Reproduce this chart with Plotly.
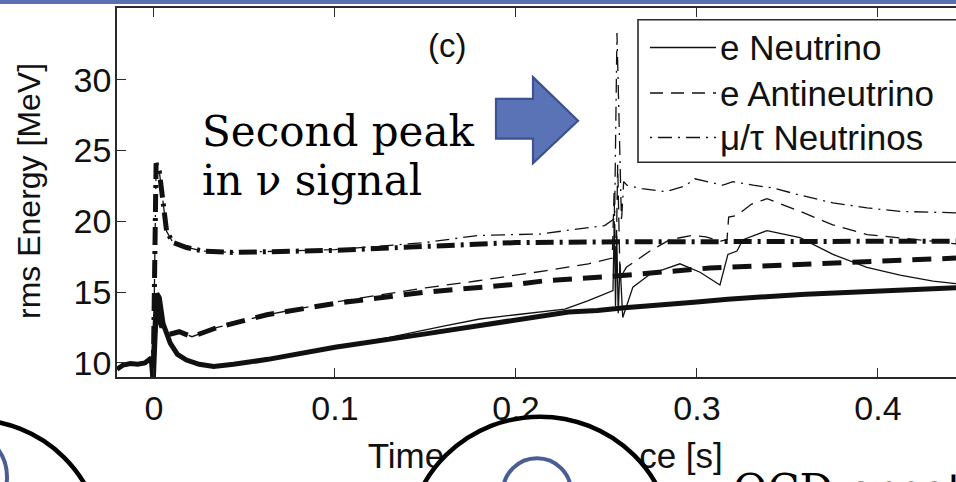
import plotly.graph_objects as go

# ---------------- data ----------------
# thick solid: e neutrino, reference model
t_nu_thick = [-0.0204, -0.017, -0.013, -0.009, -0.005, -0.0015, -0.0004, 0.0006, 0.0016, 0.003,
              0.005, 0.009, 0.013, 0.018, 0.025, 0.033, 0.044, 0.063, 0.1, 0.15,
              0.2, 0.229, 0.245, 0.26, 0.3, 0.317, 0.36, 0.4, 0.4431]
E_nu_thick = [9.55, 9.85, 9.95, 9.9, 10.0, 10.35, 8.6, 12.5, 14.9, 14.6,
              12.8, 11.4, 10.6, 10.2, 9.9, 9.75, 9.9, 10.25, 11.1, 12.05,
              13.0, 13.6, 13.7, 13.9, 14.3, 14.5, 14.85, 15.1, 15.3]

# thin solid: e neutrino, with second peak
t_nu_thin = [-0.0204, -0.017, -0.013, -0.009, -0.005, -0.0015, -0.0004, 0.0006, 0.0016, 0.003,
             0.005, 0.009, 0.013, 0.018, 0.025, 0.033, 0.044, 0.063, 0.1, 0.13,
             0.16, 0.18, 0.2, 0.227, 0.24, 0.2536, 0.2543, 0.255, 0.2557, 0.2565,
             0.2575, 0.259, 0.2646, 0.274, 0.2906, 0.3017, 0.3127, 0.3171, 0.3221, 0.3254,
             0.3387, 0.3569, 0.3751, 0.3939, 0.4122, 0.4304, 0.4431]
E_nu_thin = [9.55, 9.85, 9.95, 9.9, 10.0, 10.35, 9.6, 12.5, 14.9, 14.6,
             12.8, 11.4, 10.6, 10.2, 9.9, 9.75, 9.9, 10.25, 11.1, 11.8,
             12.6, 13.1, 13.4, 13.8, 14.4, 15.1, 20.0, 14.0, 19.0, 13.5,
             17.0, 13.2, 15.35, 16.26, 17.0, 16.4, 15.5, 17.66, 17.9, 18.7,
             19.34, 18.85, 17.66, 16.75, 16.2, 15.77, 15.6]

# thick dashed: e antineutrino, reference model
t_anu_thick = [-0.0004, 0.0012, 0.003, 0.005, 0.008, 0.014, 0.021, 0.035, 0.0624, 0.1,
               0.15, 0.179, 0.2, 0.216, 0.252, 0.307, 0.363, 0.4431]
E_anu_thick = [10.0, 14.0, 13.0, 12.3, 12.0, 12.2, 11.85, 12.5, 13.4, 14.2,
               15.0, 15.3, 15.55, 15.8, 16.1, 16.7, 17.0, 17.4]

# thin dashed: e antineutrino, with second peak
t_anu_thin = [-0.0004, 0.0012, 0.003, 0.005, 0.008, 0.014, 0.021, 0.035, 0.0624, 0.1,
              0.15, 0.179, 0.216, 0.24, 0.2532, 0.2542, 0.2552, 0.2562, 0.2575, 0.261,
              0.274, 0.285, 0.297, 0.305, 0.313, 0.3166, 0.3175, 0.322, 0.33, 0.3387,
              0.357, 0.375, 0.394, 0.412, 0.43, 0.4431]
E_anu_thin = [10.0, 14.0, 13.0, 12.3, 12.0, 12.2, 11.85, 12.5, 13.4, 14.3,
              15.3, 15.8, 16.5, 17.0, 17.4, 22.0, 16.0, 24.0, 16.0, 16.75,
              17.9, 18.7, 19.0, 18.9, 18.6, 18.7, 20.3, 20.4, 21.2, 21.6,
              20.7, 19.75, 19.06, 18.85, 18.6, 18.4]

# thick dash-dot: mu/tau neutrinos, reference model
t_mt_thick = [-0.0004, 0.0012, 0.003, 0.007, 0.0105, 0.018, 0.027, 0.044, 0.1, 0.15,
              0.2, 0.26, 0.35, 0.4431]
E_mt_thick = [9.0, 24.1, 23.5, 19.3, 18.5, 18.15, 17.9, 17.8, 17.95, 18.25,
              18.5, 18.55, 18.6, 18.6]

# thin dash-dot: mu/tau neutrinos, with second peak
t_mt_thin = [-0.0004, 0.0012, 0.003, 0.007, 0.0105, 0.018, 0.027, 0.044, 0.1, 0.15,
             0.179, 0.213, 0.249, 0.2545, 0.2558, 0.2583, 0.2595, 0.2613, 0.2696, 0.2829,
             0.2934, 0.2989, 0.3144, 0.3199, 0.331, 0.342, 0.3569, 0.3751, 0.3939, 0.4122,
             0.4431]
E_mt_thin = [9.0, 24.1, 23.5, 19.3, 18.5, 18.15, 17.9, 17.8, 18.0, 18.5,
             19.0, 19.1, 19.7, 20.2, 33.3, 20.0, 22.8, 22.55, 22.3, 22.1,
             22.5, 23.0, 22.55, 22.8, 22.55, 22.35, 21.85, 21.3, 20.95, 20.7,
             20.6]

legend_names = ["e Neutrino", "e Antineutrino", "\u03bc/\u03c4 Neutrinos"]
x_tickvals = [0, 0.1, 0.2, 0.3, 0.4]
x_ticktext = ["0", "0.1", "0.2", "0.3", "0.4"]
y_tickvals = [10, 15, 20, 25, 30, 35]
y_ticktext = ["10", "15", "20", "25", "30", ""]

# ---------------- layout helpers ----------------
W, H = 956, 482
L, R, T, B = 117, 956, 8, 381
X_RANGE = [-0.0204, 0.4431]
Y_RANGE = [9.0, 35.07]


def px(x):  # figure pixel -> paper (margins are zero, paper = whole figure)
    return x / W


def py(y):
    return 1 - y / H


INK = "#111111"
AXC = "#2a2a2a"
SANS = "Liberation Sans, Arial, Helvetica, sans-serif"
SERIF = "DejaVu Serif, serif"

THIN = 1.3
THICK = 5
DASH_THICK = "19px,11px"
DASHDOT_THICK = "18px,6px,3px,6px"
DASH_THIN = "14px,8px"
DASHDOT_THIN = "14px,6px,2px,6px"

fig = go.Figure()


def add_line(t, e, width, dash, name):
    fig.add_trace(go.Scatter(x=t, y=e, mode="lines", name=name,
                             line=dict(color=INK, width=width, dash=dash),
                             showlegend=False, hoverinfo="skip"))


add_line(t_nu_thick, E_nu_thick, THICK, "solid", legend_names[0])
add_line(t_anu_thick, E_anu_thick, THICK, DASH_THICK, legend_names[1])
add_line(t_mt_thick, E_mt_thick, THICK, DASHDOT_THICK, legend_names[2])
add_line(t_nu_thin, E_nu_thin, THIN, "solid", legend_names[0])
add_line(t_anu_thin, E_anu_thin, THIN, DASH_THIN, legend_names[1])
add_line(t_mt_thin, E_mt_thin, THIN, DASHDOT_THIN, legend_names[2])

# x-axis title pieces still visible around the slide circle; drawn on a full-figure
# pixel overlay so that the slide shapes (layer above) can cover them
fig.add_trace(go.Scatter(x=[406, 681], y=[464, 464], mode="text",
                         text=["Time", "ce [s]"], textposition="middle center",
                         textfont=dict(family=SANS, size=35, color=INK),
                         xaxis="x2", yaxis="y2", showlegend=False, hoverinfo="skip"))

shapes = []
# slide: top blue band
shapes.append(dict(type="rect", xref="paper", yref="paper", x0=0, x1=1,
                   y0=py(4), y1=1.01, fillcolor="#5B70B0", line=dict(width=0), layer="above"))

# manual legend
shapes.append(dict(type="rect", xref="paper", yref="paper", x0=px(638), x1=px(975),
                   y0=py(164), y1=py(20), fillcolor="white",
                   line=dict(color=AXC, width=1.6), layer="above"))
leg_y = [48, 94, 139]
leg_dash = ["solid", "13px,8px", "2px,6px,14px,6px"]
for yy, dd in zip(leg_y, leg_dash):
    shapes.append(dict(type="line", xref="paper", yref="paper", x0=px(650), x1=px(716),
                       y0=py(yy), y1=py(yy), line=dict(color=INK, width=1.4, dash=dd),
                       layer="above"))

# slide: blue block arrow
pts = [(496, 100), (533, 100), (533, 78), (578, 122), (533, 165), (533, 140), (496, 140)]
path = "M " + " L ".join(f"{px(a):.5f},{py(b):.5f}" for a, b in pts) + " Z"
shapes.append(dict(type="path", xref="paper", yref="paper", path=path,
                   fillcolor="#5A72B6", line=dict(color="#3C5190", width=2.2), layer="above"))


def circle(cx, cy, r, fill, color, width):
    return dict(type="circle", xref="paper", yref="paper",
                x0=px(cx - r), x1=px(cx + r), y0=py(cy + r), y1=py(cy - r),
                fillcolor=fill, line=dict(color=color, width=width), layer="above")


# slide: big black-outlined circles at the bottom
shapes.append(circle(-28, 554, 130, "white", "black", 4.5))
shapes.append(circle(540, 554, 133, "white", "black", 4.5))
# slide: small blue rings
shapes.append(circle(-41, 482, 48, "rgba(0,0,0,0)", "#4A5D94", 4))
shapes.append(circle(537, 497, 34, "rgba(0,0,0,0)", "#4A5D94", 4))

annotations = []
for yy, name in zip(leg_y, legend_names):
    annotations.append(dict(xref="paper", yref="paper", x=px(718), y=py(yy), text=name,
                            showarrow=False, xanchor="left", yanchor="middle",
                            font=dict(family=SANS, size=35, color=INK)))

annotations.append(dict(xref="paper", yref="paper", x=px(447), y=py(46), text="(c)",
                        showarrow=False, xanchor="center", yanchor="middle",
                        font=dict(family=SANS, size=33, color=INK)))

annotations.append(dict(xref="paper", yref="paper", x=px(29), y=py(193),
                        text="rms Energy [MeV]", textangle=-90, showarrow=False,
                        xanchor="center", yanchor="middle",
                        font=dict(family=SANS, size=32, color=INK)))

annotations.append(dict(xref="paper", yref="paper", x=px(200), y=py(133), text="Second peak",
                        showarrow=False, xanchor="left", yanchor="middle",
                        font=dict(family=SERIF, size=42, color="black")))
annotations.append(dict(xref="paper", yref="paper", x=px(200), y=py(182), text="in \u03bd signal",
                        showarrow=False, xanchor="left", yanchor="middle",
                        font=dict(family=SERIF, size=42, color="black")))
annotations.append(dict(xref="paper", yref="paper", x=px(731), y=py(495), text="QCD-onset",
                        showarrow=False, xanchor="left", yanchor="middle",
                        font=dict(family=SERIF, size=42, color="black")))

fig.update_layout(
    width=W, height=H,
    margin=dict(l=0, r=0, t=0, b=0, pad=0),
    paper_bgcolor="white", plot_bgcolor="rgba(0,0,0,0)",
    showlegend=False,
    shapes=shapes, annotations=annotations,
    xaxis=dict(domain=[L / W, R / W], range=X_RANGE, tickmode="array",
               tickvals=x_tickvals, ticktext=x_ticktext,
               ticks="inside", ticklen=9, tickwidth=1.4, tickcolor=AXC,
               showline=True, linecolor=AXC, linewidth=1.6, mirror="ticks",
               showgrid=False, zeroline=False, ticklabelstandoff=0,
               tickfont=dict(family=SANS, size=34, color=INK)),
    yaxis=dict(domain=[1 - B / H, 1 - T / H], range=Y_RANGE, tickmode="array",
               tickvals=y_tickvals, ticktext=y_ticktext,
               ticks="inside", ticklen=9, tickwidth=1.4, tickcolor=AXC,
               showline=True, linecolor=AXC, linewidth=1.6, mirror=False,
               showgrid=False, zeroline=False, ticklabelstandoff=-3,
               tickfont=dict(family=SANS, size=34, color=INK)),
    xaxis2=dict(domain=[0, 1], range=[0, W], visible=False, anchor="y2", fixedrange=True),
    yaxis2=dict(domain=[0, 1], range=[H, 0], visible=False, anchor="x2", fixedrange=True),
)

fig.write_html("out.html", config={"displayModeBar": False},
               post_script="document.body.style.margin='0';document.body.style.overflow='hidden';")
